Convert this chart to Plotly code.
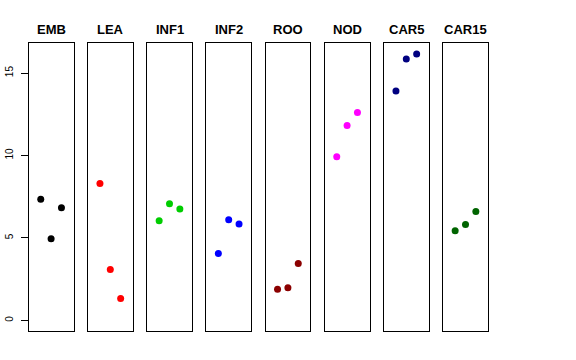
import plotly.graph_objects as go

groups = ["EMB", "LEA", "INF1", "INF2", "ROO", "NOD", "CAR5", "CAR15"]
colors = ["#000000", "#FF0000", "#00CD00", "#0000FF", "#8B0000", "#FF00FF", "#000080", "#006400"]
replicate = [1, 2, 3]
emb = [7.35, 4.95, 6.83]
lea = [8.30, 3.09, 1.33]
inf1 = [6.04, 7.07, 6.75]
inf2 = [4.06, 6.10, 5.84]
roo = [1.88, 1.98, 3.45]
nod = [9.92, 11.82, 12.61]
car5 = [13.92, 15.85, 16.16]
car15 = [5.43, 5.82, 6.61]
values = [emb, lea, inf1, inf2, roo, nod, car5, car15]
y_ticks = [0, 5, 10, 15]

W, H = 576, 360
left0, step, pw = 28.7, 59.2, 44.8
top_px, bot_px = 43.3, 331.0

ymax = max(max(v) for v in values)
ymin = 0
pad = 0.04 * (ymax - ymin)
yrange = [ymin - pad, ymax + pad]

fig = go.Figure()
layout = {}
for i, (g, c, v) in enumerate(zip(groups, colors, values)):
    n = "" if i == 0 else str(i + 1)
    fig.add_trace(go.Scatter(
        x=replicate, y=v, mode="markers",
        marker=dict(color=c, size=7),
        xaxis="x" + n, yaxis="y" + n, showlegend=False, hoverinfo="y"))
    x0 = (left0 + step * i) / W
    x1 = (left0 + step * i + pw) / W
    layout["xaxis" + n] = dict(
        domain=[x0, x1], range=[-0.165, 4.165], anchor="y" + n,
        showline=True, linecolor="black", linewidth=1, mirror=True,
        showgrid=False, zeroline=False, showticklabels=False, ticks="")
    ya = dict(
        domain=[(H - bot_px) / H, (H - top_px) / H], range=yrange, anchor="x" + n,
        showline=True, linecolor="black", linewidth=1, mirror=True,
        showgrid=False, zeroline=False)
    if i == 0:
        ya.update(tickvals=y_ticks, ticktext=[str(t) for t in y_ticks], ticks="outside",
                  ticklen=7, tickcolor="black", tickangle=-90,
                  tickfont=dict(family="Liberation Sans, Arial", size=10, color="black"),
                  ticklabelstandoff=4)
    else:
        ya.update(showticklabels=False, ticks="")
    layout["yaxis" + n] = ya
    fig.add_annotation(
        x=(x0 + x1) / 2, y=(H - 29) / H, xref="paper", yref="paper",
        text="<b>" + g + "</b>", showarrow=False,
        font=dict(family="Liberation Sans, Arial", size=13, color="black"),
        xanchor="center", yanchor="middle")

fig.update_layout(
    width=W, height=H, margin=dict(l=0, r=0, t=0, b=0),
    paper_bgcolor="white", plot_bgcolor="white", **layout)

fig.write_html("out.html", config={"displayModeBar": False},
               post_script="document.body.style.margin='0';")
